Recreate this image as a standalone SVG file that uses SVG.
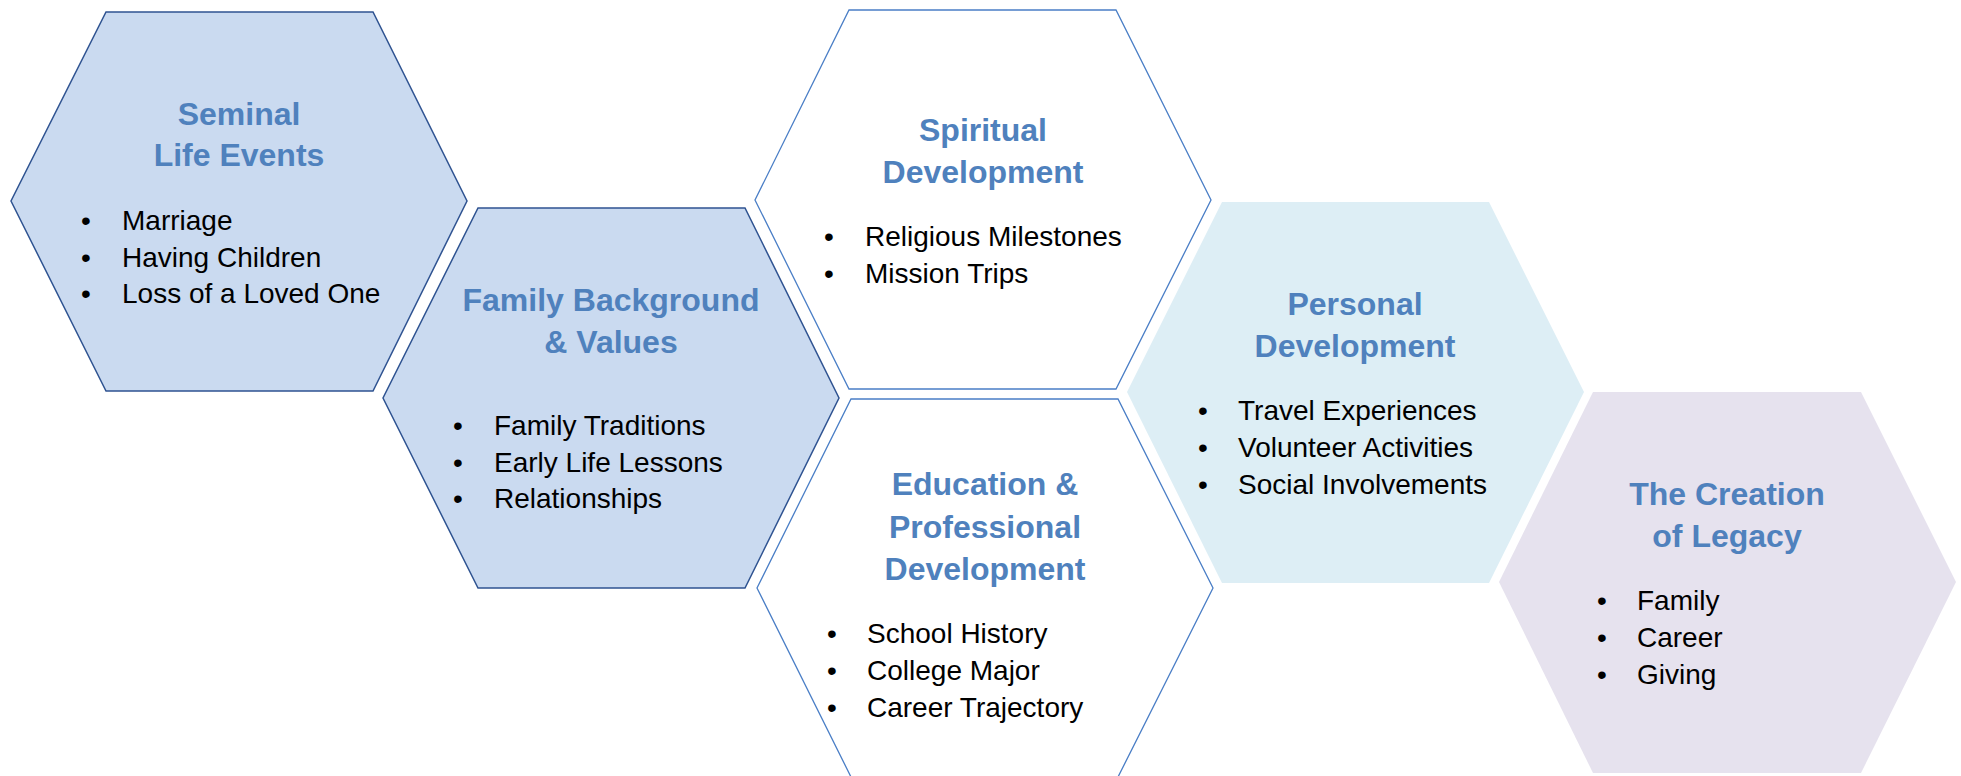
<svg xmlns="http://www.w3.org/2000/svg" width="1961" height="776" viewBox="0 0 1961 776">
<style>
.title{font-family:"Liberation Sans",Arial,sans-serif;font-weight:bold;font-size:32px;fill:#4F81BD;text-anchor:middle}
.item{font-family:"Liberation Sans",Arial,sans-serif;font-size:28px;fill:#000}
.bul{font-family:"Liberation Sans",Arial,sans-serif;font-size:28px;fill:#000;text-anchor:middle}
.dark{fill:#CADAF0;stroke:#2F5391;stroke-width:1.5}
.white{fill:#FFFFFF;stroke:#4A7EC6;stroke-width:1.3}
.cyan{fill:#DDEEF5}
.lav{fill:#E6E2EE}
</style>
<rect width="1961" height="776" fill="#FFFFFF"/>
<g id="seminal">
<polygon class="dark" points="106,12 373,12 467,201 373,391 106,391 11,201"/>
<text class="title" x="239" y="125">Seminal</text>
<text class="title" x="239" y="166">Life Events</text>
<text class="bul" x="86" y="230">•</text><text class="item" x="122" y="230">Marriage</text>
<text class="bul" x="86" y="267">•</text><text class="item" x="122" y="267">Having Children</text>
<text class="bul" x="86" y="303">•</text><text class="item" x="122" y="303">Loss of a Loved One</text>
</g>
<g id="family">
<polygon class="dark" points="478,208 745,208 839,398 745,588 478,588 383,398"/>
<text class="title" x="611" y="311">Family Background</text>
<text class="title" x="611" y="353">&amp; Values</text>
<text class="bul" x="458" y="435">•</text><text class="item" x="494" y="435">Family Traditions</text>
<text class="bul" x="458" y="472">•</text><text class="item" x="494" y="472">Early Life Lessons</text>
<text class="bul" x="458" y="508">•</text><text class="item" x="494" y="508">Relationships</text>
</g>
<g id="spiritual">
<polygon class="white" points="849,10 1116,10 1211,200 1116,389 849,389 755,200"/>
<text class="title" x="983" y="141">Spiritual</text>
<text class="title" x="983" y="183">Development</text>
<text class="bul" x="829" y="246">•</text><text class="item" x="865" y="246">Religious Milestones</text>
<text class="bul" x="829" y="283">•</text><text class="item" x="865" y="283">Mission Trips</text>
</g>
<g id="education">
<polygon class="white" points="851,399 1118,399 1213,588 1118,777 851,777 757,588"/>
<text class="title" x="985" y="495">Education &amp;</text>
<text class="title" x="985" y="538">Professional</text>
<text class="title" x="985" y="580">Development</text>
<text class="bul" x="832" y="643">•</text><text class="item" x="867" y="643">School History</text>
<text class="bul" x="832" y="680">•</text><text class="item" x="867" y="680">College Major</text>
<text class="bul" x="832" y="717">•</text><text class="item" x="867" y="717">Career Trajectory</text>
</g>
<g id="personal">
<polygon class="cyan" points="1222,202 1489,202 1584,392 1489,583 1222,583 1127,392"/>
<text class="title" x="1355" y="315">Personal</text>
<text class="title" x="1355" y="357">Development</text>
<text class="bul" x="1203" y="420">•</text><text class="item" x="1238" y="420">Travel Experiences</text>
<text class="bul" x="1203" y="457">•</text><text class="item" x="1238" y="457">Volunteer Activities</text>
<text class="bul" x="1203" y="494">•</text><text class="item" x="1238" y="494">Social Involvements</text>
</g>
<g id="legacy">
<polygon class="lav" points="1593,392 1861,392 1956,582 1861,773 1593,773 1499,582"/>
<text class="title" x="1727" y="505">The Creation</text>
<text class="title" x="1727" y="547">of Legacy</text>
<text class="bul" x="1602" y="610">•</text><text class="item" x="1637" y="610">Family</text>
<text class="bul" x="1602" y="647">•</text><text class="item" x="1637" y="647">Career</text>
<text class="bul" x="1602" y="684">•</text><text class="item" x="1637" y="684">Giving</text>
</g>
<g id="connectors"></g>
</svg>
